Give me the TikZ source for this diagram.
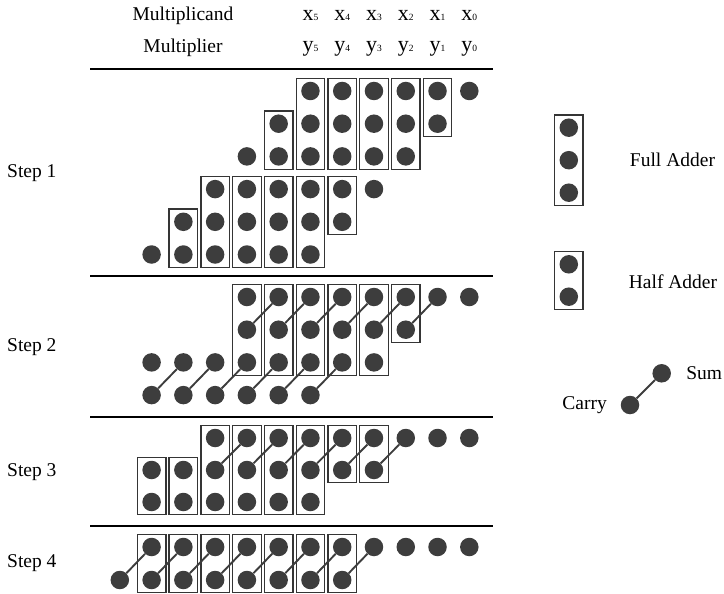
\documentclass[tikz,border=0pt]{standalone}
\usepackage{fontspec}
\setmainfont{Liberation Serif}
\usetikzlibrary{fit}
\definecolor{dotgray}{HTML}{3D3D3D}
\definecolor{boxgray}{HTML}{353535}

\begin{document}
\begin{tikzpicture}[x=1pt, y=-1pt,
    every node/.style={font=\fontsize{19.5}{23}\selectfont},
    dot/.style={circle, fill=dotgray, minimum size=18.5pt, inner sep=0pt},
    adder/.style={draw=boxgray, line width=1.3pt, inner xsep=4.8pt, inner ysep=3.3pt},
    link/.style={draw=dotgray, line width=1.9pt},
    rule/.style={line width=2.6pt},
    hdr/.style={anchor=base, inner sep=0pt}]
\useasboundingbox (0,0) rectangle (724,594);

% header
\node[hdr] (mcand) at (183,20.5) {Multiplicand};
\node[hdr] (mplier) at (183,53) {Multiplier};
\foreach \c in {0,...,5} {
  \node[hdr] (x\c) at ({469.3-31.77*\c},20.5)
    {{\fontsize{22}{26}\selectfont x}{\fontsize{9.5}{11}\selectfont\c}};
  \node[hdr] (y\c) at ({469.3-31.77*\c},51.5)
    {{\fontsize{22}{26}\selectfont y}{\fontsize{9.5}{11}\selectfont\c}};
}

\draw[rule] (90,69) -- (493,69);
\draw[rule] (90,276) -- (493,276);
\draw[rule] (90,417) -- (493,417);
\draw[rule] (90,526) -- (493,526);

\node[anchor=west, inner sep=0pt] (step1) at (7,173) {Step 1};
\node[anchor=west, inner sep=0pt] (step2) at (7,347) {Step 2};
\node[anchor=west, inner sep=0pt] (step3) at (7,472) {Step 3};
\node[anchor=west, inner sep=0pt] (step4) at (7,563) {Step 4};

% step 1
\foreach \r/\from/\to in {0/0/5, 1/1/6, 2/2/7, 3/3/8, 4/4/9, 5/5/10}
  \foreach \c in {\from,...,\to}
    \node[dot] (a\r-\c) at ({469.3-31.77*\c},{91+32.7*\r}) {};
\foreach \c in {2,...,5} \node[adder, fit=(a0-\c)(a2-\c)] (faA\c) {};
\foreach \c in {5,...,8} \node[adder, fit=(a3-\c)(a5-\c)] (faB\c) {};
\node[adder, fit=(a0-1)(a1-1)] (haA1) {};
\node[adder, fit=(a1-6)(a2-6)] (haA6) {};
\node[adder, fit=(a3-4)(a4-4)] (haB4) {};
\node[adder, fit=(a4-9)(a5-9)] (haB9) {};

% step 2
\foreach \r/\from/\to in {0/0/7, 1/2/7, 2/3/10, 3/5/10}
  \foreach \c in {\from,...,\to}
    \node[dot] (b\r-\c) at ({469.3-31.77*\c},{297+32.7*\r}) {};
\foreach \c in {3,...,7} \node[adder, fit=(b0-\c)(b2-\c)] (faC\c) {};
\node[adder, fit=(b0-2)(b1-2)] (haC2) {};
\foreach \c [evaluate=\c as \n using int(\c+1)] in {1,...,6}
  \draw[link] (b0-\c) -- (b1-\n);
\foreach \c [evaluate=\c as \n using int(\c+1)] in {4,...,9}
  \draw[link] (b2-\c) -- (b3-\n);

% step 3
\foreach \r/\from/\to in {0/0/8, 1/3/10, 2/5/10}
  \foreach \c in {\from,...,\to}
    \node[dot] (c\r-\c) at ({469.3-31.77*\c},{438+32*\r}) {};
\foreach \c in {5,...,8} \node[adder, fit=(c0-\c)(c2-\c)] (faD\c) {};
\foreach \c in {3,4} \node[adder, fit=(c0-\c)(c1-\c)] (haD\c) {};
\foreach \c in {9,10} \node[adder, fit=(c1-\c)(c2-\c)] (haE\c) {};
\foreach \c [evaluate=\c as \n using int(\c+1)] in {2,...,7}
  \draw[link] (c0-\c) -- (c1-\n);

% step 4
\foreach \r/\from/\to in {0/0/10, 1/4/11}
  \foreach \c in {\from,...,\to}
    \node[dot] (d\r-\c) at ({469.3-31.77*\c},{547+33*\r}) {};
\foreach \c in {4,...,10} \node[adder, fit=(d0-\c)(d1-\c)] (haF\c) {};
\foreach \c [evaluate=\c as \n using int(\c+1)] in {3,...,10}
  \draw[link] (d0-\c) -- (d1-\n);

% legend
\node[dot] (fa1) at (568.8,127.7) {};
\node[dot] (fa2) at (568.8,160.2) {};
\node[dot] (fa3) at (568.8,192.7) {};
\node[adder, fit=(fa1)(fa3)] (fabox) {};
\node (falabel) at (672.5,160) {Full Adder};
\node[dot] (ha1) at (568.8,264.3) {};
\node[dot] (ha2) at (568.8,296.7) {};
\node[adder, fit=(ha1)(ha2)] (habox) {};
\node (halabel) at (673,282) {Half Adder};
\node[dot] (sum) at (661.7,373.3) {};
\node[dot] (carry) at (630,405) {};
\draw[link] (carry) -- (sum);
\node at (sum.east) [anchor=west, inner sep=0pt, xshift=15pt] (sumlabel) {Sum};
\node at (carry.west) [anchor=east, inner sep=0pt, xshift=-13.5pt] (carrylabel) {Carry};
\end{tikzpicture}
\end{document}
